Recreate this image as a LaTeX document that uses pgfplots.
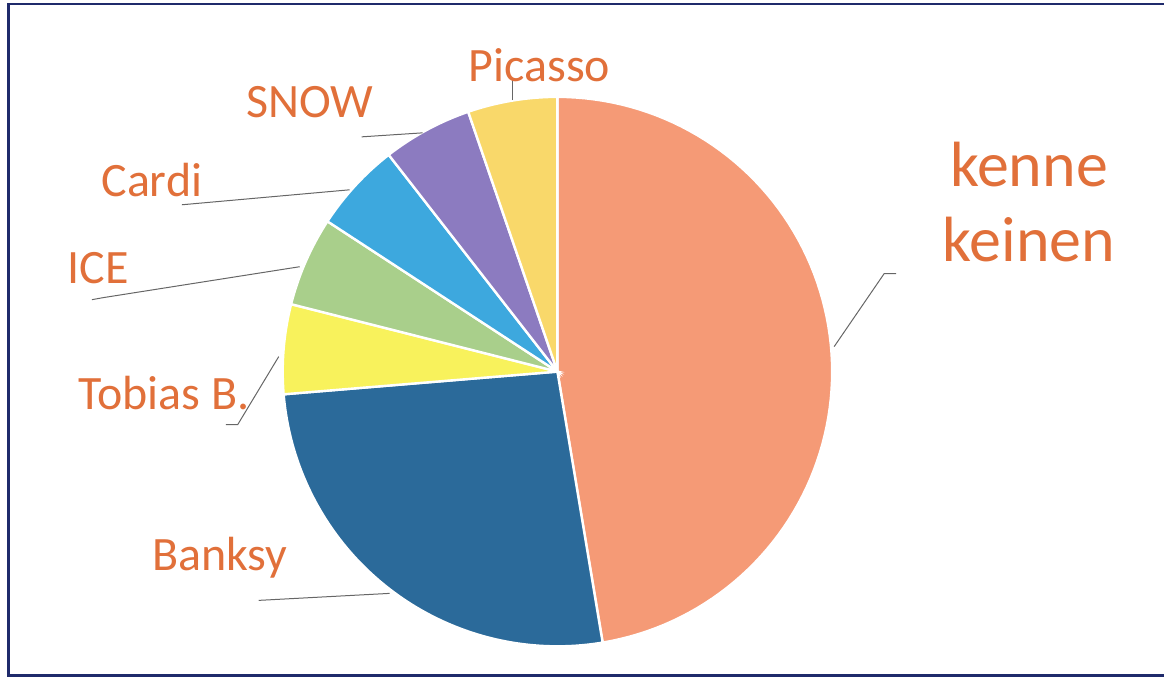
\documentclass[border=0pt]{standalone}
\usepackage{pgfplots}
\pgfplotsset{compat=1.18}
\usepackage{fontspec}
\setmainfont{Carlito}
\definecolor{cKenne}{HTML}{F59A76}
\definecolor{cBanksy}{HTML}{2B6A9A}
\definecolor{cTobias}{HTML}{F8F25C}
\definecolor{cIce}{HTML}{A9CF8B}
\definecolor{cCardi}{HTML}{3DA8DE}
\definecolor{cSnow}{HTML}{8C7BC0}
\definecolor{cPicasso}{HTML}{F9D86A}
\definecolor{lab}{HTML}{E1703A}
\definecolor{frame}{HTML}{1F2A6B}
\begin{document}
\begin{tikzpicture}
\begin{axis}[
  width=582.5pt, height=339.5pt, scale only axis,
  xmin=0, xmax=1165, ymin=0, ymax=679,
  hide axis, clip=false,
]
% fixed bounding box
\path (axis cs:0,0) rectangle (axis cs:1165,679);
% frame
\draw[frame, line width=1.2pt] (axis cs:1165,675) -- (axis cs:8.5,675) -- (axis cs:8.5,3) -- (axis cs:1165,3);
% slices: value / colour (clockwise from the top), total 19
\xdef\cum{0}
\foreach \v/\c in {9/cKenne,5/cBanksy,1/cTobias,1/cIce,1/cCardi,1/cSnow,1/cPicasso} {
  \pgfmathsetmacro\a{\cum}
  \pgfmathsetmacro\b{\cum+\v*360/19}
  \edef\tmp{\noexpand\addplot[fill=\c, draw=white, line width=1.2pt, domain=\a:\b, samples=90]
    ({558+275*sin(x)},{307+275*cos(x)}) -- (axis cs:558,307) -- cycle;}
  \tmp
  \xdef\cum{\b}
}
% leader lines
\draw[gray!80!black, line width=0.5pt] (axis cs:513,601) -- (axis cs:513,579);
\draw[gray!80!black, line width=0.5pt] (axis cs:362,542) -- (axis cs:423,546);
\draw[gray!80!black, line width=0.5pt] (axis cs:182,474) -- (axis cs:350,489);
\draw[gray!80!black, line width=0.5pt] (axis cs:92,379) -- (axis cs:103,381) -- (axis cs:300,412);
\draw[gray!80!black, line width=0.5pt] (axis cs:226,254) -- (axis cs:238,254) -- (axis cs:279,322);
\draw[gray!80!black, line width=0.5pt] (axis cs:259,78) -- (axis cs:390,85);
\draw[gray!80!black, line width=0.5pt] (axis cs:835,332) -- (axis cs:885,405) -- (axis cs:897,405);
% labels
\node[lab, font=\fontsize{24}{28}\selectfont] at (axis cs:540,614) {Picasso};
\node[lab, font=\fontsize{24}{28}\selectfont] at (axis cs:310,577) {SNOW};
\node[lab, font=\fontsize{24}{28}\selectfont] at (axis cs:152,499) {Cardi};
\node[lab, font=\fontsize{24}{28}\selectfont] at (axis cs:98,411) {ICE};
\node[lab, font=\fontsize{24}{28}\selectfont] at (axis cs:164,286) {Tobias B.};
\node[lab, font=\fontsize{24}{28}\selectfont] at (axis cs:220,121) {Banksy};
\node[lab, font=\fontsize{32}{38}\selectfont] at (axis cs:1030,514) {kenne};
\node[lab, font=\fontsize{32}{38}\selectfont] at (axis cs:1030,439) {keinen};
\end{axis}
\end{tikzpicture}
\end{document}
